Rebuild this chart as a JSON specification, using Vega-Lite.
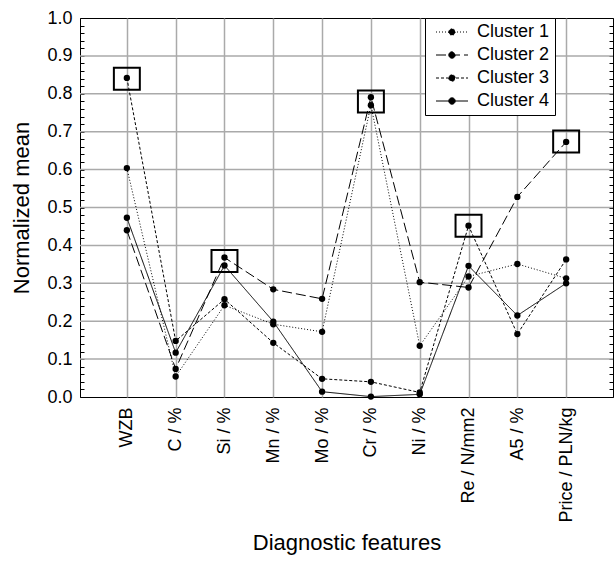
{
  "$schema": "https://vega.github.io/schema/vega-lite/v6.json",
  "autosize": {"type": "none"},
  "width": 533,
  "height": 379,
  "padding": {"left": 80, "top": 18, "right": 2, "bottom": 166},
  "background": "white",
  "config": {
    "font": "Liberation Sans",
    "view": {"stroke": "black", "strokeWidth": 1},
    "axis": {"labelFont": "Liberation Sans", "titleFont": "Liberation Sans", "labelColor": "black", "titleColor": "black", "titleFontWeight": "normal"}
  },
  "datasets": {
    "means": [
      {"cluster": "Cluster 1", "feature": "WZB", "value": 0.604},
      {"cluster": "Cluster 1", "feature": "C / %", "value": 0.054},
      {"cluster": "Cluster 1", "feature": "Si / %", "value": 0.242},
      {"cluster": "Cluster 1", "feature": "Mn / %", "value": 0.192},
      {"cluster": "Cluster 1", "feature": "Mo / %", "value": 0.172},
      {"cluster": "Cluster 1", "feature": "Cr / %", "value": 0.770},
      {"cluster": "Cluster 1", "feature": "Ni / %", "value": 0.135},
      {"cluster": "Cluster 1", "feature": "Re / N/mm2", "value": 0.318},
      {"cluster": "Cluster 1", "feature": "A5 / %", "value": 0.351},
      {"cluster": "Cluster 1", "feature": "Price / PLN/kg", "value": 0.313},
      {"cluster": "Cluster 2", "feature": "WZB", "value": 0.440},
      {"cluster": "Cluster 2", "feature": "C / %", "value": 0.074},
      {"cluster": "Cluster 2", "feature": "Si / %", "value": 0.368},
      {"cluster": "Cluster 2", "feature": "Mn / %", "value": 0.284},
      {"cluster": "Cluster 2", "feature": "Mo / %", "value": 0.259},
      {"cluster": "Cluster 2", "feature": "Cr / %", "value": 0.791},
      {"cluster": "Cluster 2", "feature": "Ni / %", "value": 0.303},
      {"cluster": "Cluster 2", "feature": "Re / N/mm2", "value": 0.289},
      {"cluster": "Cluster 2", "feature": "A5 / %", "value": 0.528},
      {"cluster": "Cluster 2", "feature": "Price / PLN/kg", "value": 0.673},
      {"cluster": "Cluster 3", "feature": "WZB", "value": 0.842},
      {"cluster": "Cluster 3", "feature": "C / %", "value": 0.148},
      {"cluster": "Cluster 3", "feature": "Si / %", "value": 0.258},
      {"cluster": "Cluster 3", "feature": "Mn / %", "value": 0.143},
      {"cluster": "Cluster 3", "feature": "Mo / %", "value": 0.048},
      {"cluster": "Cluster 3", "feature": "Cr / %", "value": 0.040},
      {"cluster": "Cluster 3", "feature": "Ni / %", "value": 0.012},
      {"cluster": "Cluster 3", "feature": "Re / N/mm2", "value": 0.452},
      {"cluster": "Cluster 3", "feature": "A5 / %", "value": 0.166},
      {"cluster": "Cluster 3", "feature": "Price / PLN/kg", "value": 0.363},
      {"cluster": "Cluster 4", "feature": "WZB", "value": 0.473},
      {"cluster": "Cluster 4", "feature": "C / %", "value": 0.117},
      {"cluster": "Cluster 4", "feature": "Si / %", "value": 0.347},
      {"cluster": "Cluster 4", "feature": "Mn / %", "value": 0.199},
      {"cluster": "Cluster 4", "feature": "Mo / %", "value": 0.014},
      {"cluster": "Cluster 4", "feature": "Cr / %", "value": 0.001},
      {"cluster": "Cluster 4", "feature": "Ni / %", "value": 0.007},
      {"cluster": "Cluster 4", "feature": "Re / N/mm2", "value": 0.346},
      {"cluster": "Cluster 4", "feature": "A5 / %", "value": 0.215},
      {"cluster": "Cluster 4", "feature": "Price / PLN/kg", "value": 0.300}
    ],
    "boxes": [
      {"feature": "WZB", "value": 0.840},
      {"feature": "Si / %", "value": 0.359},
      {"feature": "Cr / %", "value": 0.780},
      {"feature": "Re / N/mm2", "value": 0.452},
      {"feature": "Price / PLN/kg", "value": 0.674}
    ],
    "grid": [
      {"v": 0.1}, {"v": 0.2}, {"v": 0.3}, {"v": 0.4}, {"v": 0.5},
      {"v": 0.6}, {"v": 0.7}, {"v": 0.8}, {"v": 0.9}
    ]
  },
  "resolve": {"axis": {"y": "independent"}},
  "layer": [
    {
      "data": {"name": "grid"},
      "mark": {"type": "rule", "color": "#aaaaaa", "strokeWidth": 1.5},
      "encoding": {
        "y": {
          "field": "v", "type": "quantitative",
          "scale": {"domain": [0, 1], "nice": false},
          "axis": {
            "orient": "right", "title": null, "labels": false, "grid": false, "domain": false,
            "tickSize": -4, "tickColor": "black",
            "values": [0,0.02,0.04,0.06,0.08,0.1,0.12,0.14,0.16,0.18,0.2,0.22,0.24,0.26,0.28,0.3,0.32,0.34,0.36,0.38,0.4,0.42,0.44,0.46,0.48,0.5,0.52,0.54,0.56,0.58,0.6,0.62,0.64,0.66,0.68,0.7,0.72,0.74,0.76,0.78,0.8,0.82,0.84,0.86,0.88,0.9,0.92,0.94,0.96,0.98,1]
          }
        }
      }
    },
    {
      "data": {"name": "means"},
      "mark": {"type": "line", "color": "black", "strokeWidth": 1},
      "encoding": {
        "x": {
          "field": "feature", "type": "nominal", "title": "Diagnostic features",
          "scale": {"type": "point", "padding": 0.96, "domain": ["WZB", "C / %", "Si / %", "Mn / %", "Mo / %", "Cr / %", "Ni / %", "Re / N/mm2", "A5 / %", "Price / PLN/kg"]},
          "axis": {
            "labelAngle": -90, "labelFontSize": 18, "titleFontSize": 22, "ticks": false, "domain": false,
            "grid": true, "gridColor": "#aaaaaa", "gridWidth": 1.5, "labelPadding": 10, "titlePadding": 10
          }
        },
        "y": {
          "field": "value", "type": "quantitative", "title": "Normalized mean",
          "scale": {"domain": [0, 1], "nice": false},
          "axis": {
            "orient": "left", "grid": false, "domain": false, "tickSize": -4, "tickColor": "black",
            "labelFontSize": 18, "titleFontSize": 22, "labelPadding": 12, "titlePadding": 13,
            "labelOverlap": false, "labelFlush": false, "labelBound": false,
            "labelExpr": "abs(datum.value*10 - round(datum.value*10)) < 0.01 ? format(datum.value, '.1f') : ''",
            "values": [0,0.02,0.04,0.06,0.08,0.1,0.12,0.14,0.16,0.18,0.2,0.22,0.24,0.26,0.28,0.3,0.32,0.34,0.36,0.38,0.4,0.42,0.44,0.46,0.48,0.5,0.52,0.54,0.56,0.58,0.6,0.62,0.64,0.66,0.68,0.7,0.72,0.74,0.76,0.78,0.8,0.82,0.84,0.86,0.88,0.9,0.92,0.94,0.96,0.98,1]
          }
        },
        "strokeDash": {
          "field": "cluster", "type": "nominal",
          "scale": {"domain": ["Cluster 1", "Cluster 2", "Cluster 3", "Cluster 4"], "range": [[1, 2], [10, 4], [3, 2], [1, 0]]},
          "legend": {
            "title": null, "orient": "none", "legendX": 345, "legendY": 0,
            "strokeColor": "black", "fillColor": "white", "padding": 5, "cornerRadius": 0,
            "labelFontSize": 18, "labelFont": "Liberation Sans", "labelColor": "black",
            "symbolType": "M-2,0H2M-0.4,0A0.4,0.4 0 1,0 0.4,0A0.4,0.4 0 1,0 -0.4,0Z",
            "symbolSize": 256, "symbolStrokeColor": "black", "symbolFillColor": "black", "symbolStrokeWidth": 1,
            "symbolOffset": 13, "labelOffset": 16, "rowPadding": 5,
            "encode": {"symbols": {"update": {"fill": {"value": "black"}, "stroke": {"value": "black"}}}}
          }
        },
        "order": {"value": null}
      }
    },
    {
      "data": {"name": "means"},
      "mark": {"type": "point", "filled": true, "shape": "circle", "size": 40, "color": "black", "opacity": 1},
      "encoding": {
        "x": {"field": "feature", "type": "nominal", "title": "Diagnostic features"},
        "y": {"field": "value", "type": "quantitative", "axis": null}
      }
    },
    {
      "data": {"name": "boxes"},
      "mark": {"type": "point", "filled": false, "shape": "M-1.18,-1H1.18V1H-1.18Z", "size": 484, "stroke": "black", "strokeWidth": 2, "opacity": 1},
      "encoding": {
        "x": {"field": "feature", "type": "nominal", "title": "Diagnostic features"},
        "y": {"field": "value", "type": "quantitative", "axis": null}
      }
    }
  ]
}
